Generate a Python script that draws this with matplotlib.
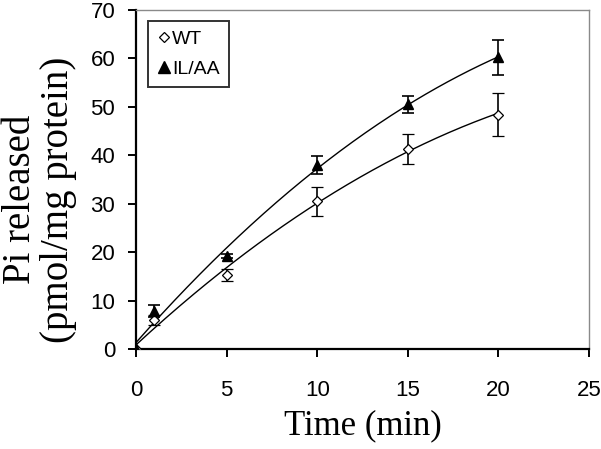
import numpy as np
import matplotlib.pyplot as plt
from matplotlib.lines import Line2D

# values
time = [0, 1, 5, 10, 15, 20]
wt = [0, 6.0, 15.3, 30.5, 41.3, 48.4]
wt_err = [0, 1.0, 1.3, 3.0, 3.2, 4.4]
ilaa = [0, 7.8, 19.2, 38.0, 50.5, 60.2]
ilaa_err = [0, 1.2, 0.5, 1.8, 1.8, 3.7]

fig = plt.figure(figsize=(6.01, 4.49), dpi=100)
ax = fig.add_axes([0.2263, 0.2227, 0.7537, 0.755])

# smooth trend lines (2nd order fit of each series, like the Excel trendline)
xs = np.linspace(0, 20, 200)
for y in (wt, ilaa):
    coef = np.polyfit(time, y, 2)
    ax.plot(xs, np.polyval(coef, xs), color='black', lw=1.0, zorder=2)

ax.errorbar(time, wt, yerr=wt_err, fmt='D', ms=5, mfc='white', mec='black',
            mew=0.9, ecolor='black', elinewidth=1.2, capsize=4, capthick=1.2, zorder=3)
ax.errorbar(time, ilaa, yerr=ilaa_err, fmt='^', ms=7, mfc='black', mec='black',
            ecolor='black', elinewidth=1.2, capsize=4, capthick=1.2, zorder=3)

ax.set_xlim(0, 25)
ax.set_ylim(0, 70)
ax.set_xticks([0, 5, 10, 15, 20, 25])
ax.set_yticks(range(0, 71, 10))

for s in ['left', 'bottom']:
    ax.spines[s].set_linewidth(1.6)
for s in ['top', 'right']:
    ax.spines[s].set_color('#8a8a8a')
    ax.spines[s].set_linewidth(1.0)

ax.tick_params(direction='out', length=6, width=1.4, labelsize=16)
ax.tick_params(axis='x', pad=16)
ax.tick_params(axis='y', pad=9)
for lab in ax.get_xticklabels() + ax.get_yticklabels():
    lab.set_family('Liberation Sans')

ax.set_xlabel('Time (min)', family='Liberation Serif', fontsize=25, labelpad=6)
fig.text(0.066, 0.555, 'Pi released\n(pmol/mg protein)', family='Liberation Serif',
         fontsize=28, rotation=90, ha='center', va='center', linespacing=1.05)

# legend shows only the markers
handles = [Line2D([], [], ls='none', marker='D', ms=5, mfc='white', mec='black', mew=0.9),
           Line2D([], [], ls='none', marker='^', ms=8, mfc='black', mec='black')]
leg = ax.legend(handles, ['WT', 'IL/AA'], loc='upper left', bbox_to_anchor=(0.005, 0.995),
                handletextpad=0.1, handlelength=0.7, borderpad=0.45, labelspacing=0.65,
                fancybox=False, prop={'family': 'Liberation Sans', 'size': 14})
leg.get_frame().set_edgecolor('black')
leg.get_frame().set_linewidth(1.4)

fig.savefig('out.png', dpi=100)
